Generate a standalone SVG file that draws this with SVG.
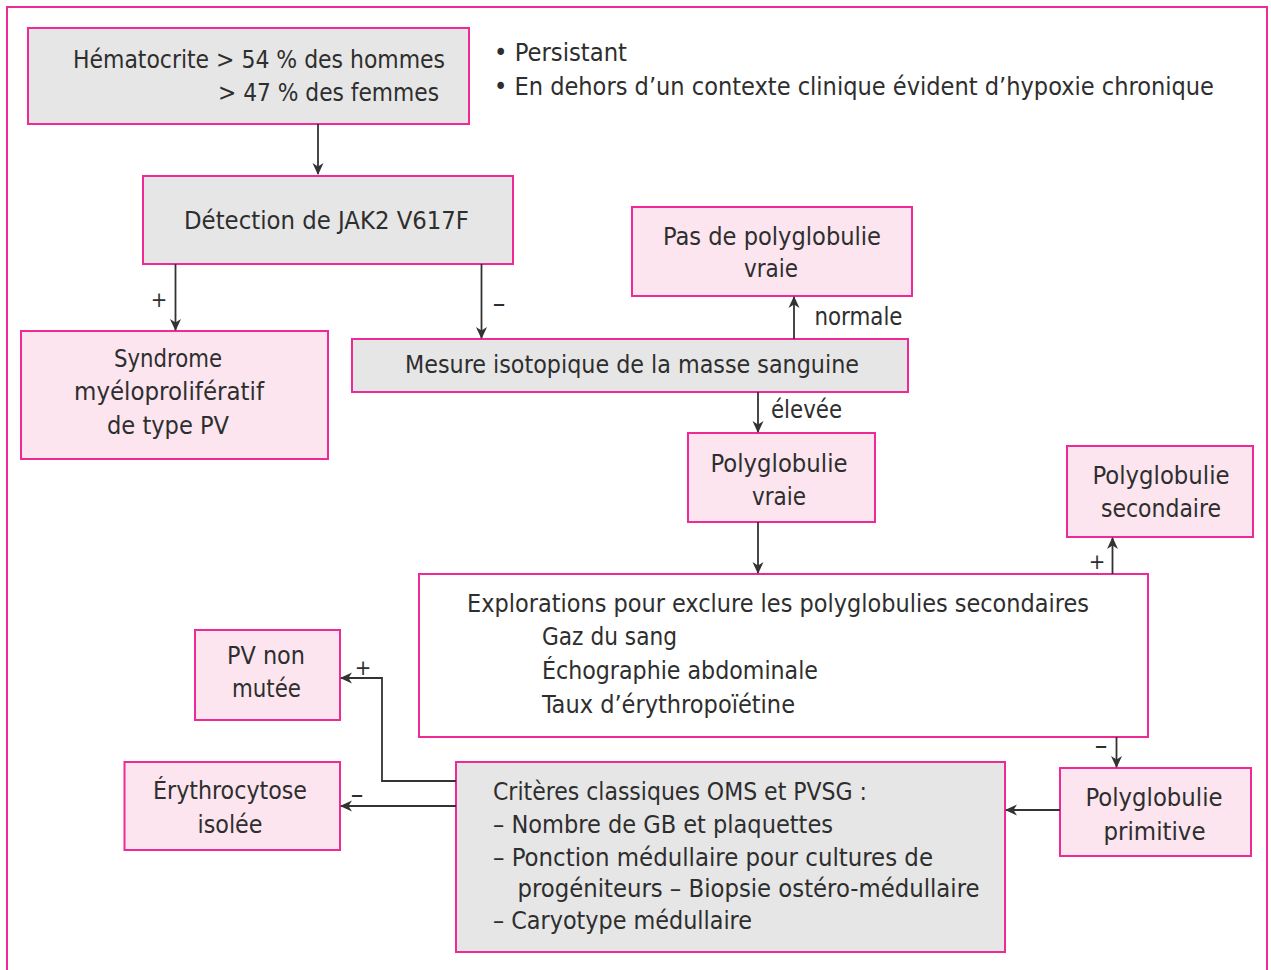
<svg xmlns="http://www.w3.org/2000/svg" width="1271" height="970" viewBox="0 0 1271 970">
<defs>
<style>
.frame{fill:#fff;stroke:#ee2a96;stroke-width:2}
.g{fill:#e6e6e6;stroke:#ee2a96;stroke-width:2}
.p{fill:#fce5ef;stroke:#ee2a96;stroke-width:2}
.w{fill:#fff;stroke:#ee2a96;stroke-width:2}
text{font-family:"DejaVu Sans Condensed","DejaVu Sans","Liberation Sans",sans-serif;font-size:24px;fill:#2e2e2e}
.c{text-anchor:middle}
.lab{font-size:22px}
.dash{font-size:28px}
.con{fill:none;stroke:#333;stroke-width:1.8;marker-end:url(#ah)}
</style>
<marker id="ah" viewBox="0 0 12 12" refX="11" refY="6" markerWidth="12" markerHeight="12" markerUnits="userSpaceOnUse" orient="auto">
<path d="M0,0.5 L12,6 L0,11.5 L3.5,6 z" fill="#333"/>
</marker>
</defs>
<rect class="frame" x="7" y="7" width="1260" height="980"/>

<g id="hematocrite">
<rect class="g" x="28" y="28" width="441" height="96"/>
<text x="445" y="68" text-anchor="end" textLength="372" lengthAdjust="spacingAndGlyphs">Hématocrite &gt; 54 % des hommes</text>
<text x="439" y="101" text-anchor="end" textLength="221" lengthAdjust="spacingAndGlyphs">&gt; 47 % des femmes</text>
</g>
<g id="conditions">
<text x="494" y="61" textLength="133" lengthAdjust="spacingAndGlyphs">• Persistant</text>
<text x="494" y="95" textLength="720" lengthAdjust="spacingAndGlyphs">• En dehors d’un contexte clinique évident d’hypoxie chronique</text>
</g>
<g id="jak2">
<rect class="g" x="143" y="176" width="370" height="88"/>
<text x="326.5" y="229" class="c" textLength="285" lengthAdjust="spacingAndGlyphs">Détection de JAK2 V617F</text>
</g>
<g id="syndrome">
<rect class="p" x="21" y="331" width="307" height="128"/>
<text x="168" y="367" class="c" textLength="108" lengthAdjust="spacingAndGlyphs">Syndrome</text>
<text x="169" y="400" class="c" textLength="190" lengthAdjust="spacingAndGlyphs">myéloprolifératif</text>
<text x="168" y="434" class="c" textLength="122" lengthAdjust="spacingAndGlyphs">de type PV</text>
</g>
<g id="mesure">
<rect class="g" x="352" y="339" width="556" height="53"/>
<text x="632" y="373" class="c" textLength="454" lengthAdjust="spacingAndGlyphs">Mesure isotopique de la masse sanguine</text>
</g>
<g id="pas-de-pv">
<rect class="p" x="632" y="207" width="280" height="89"/>
<text x="772" y="245" class="c" textLength="218" lengthAdjust="spacingAndGlyphs">Pas de polyglobulie</text>
<text x="771" y="277" class="c" textLength="54" lengthAdjust="spacingAndGlyphs">vraie</text>
</g>
<g id="pv-vraie">
<rect class="p" x="688" y="433" width="187" height="89"/>
<text x="779" y="472" class="c" textLength="137" lengthAdjust="spacingAndGlyphs">Polyglobulie</text>
<text x="779" y="505" class="c" textLength="54" lengthAdjust="spacingAndGlyphs">vraie</text>
</g>
<g id="pv-secondaire">
<rect class="p" x="1067" y="446" width="186" height="91"/>
<text x="1161" y="484" class="c" textLength="137" lengthAdjust="spacingAndGlyphs">Polyglobulie</text>
<text x="1161" y="517" class="c" textLength="120" lengthAdjust="spacingAndGlyphs">secondaire</text>
</g>
<g id="explorations">
<rect class="w" x="419" y="574" width="729" height="163"/>
<text x="467" y="612" textLength="622" lengthAdjust="spacingAndGlyphs">Explorations pour exclure les polyglobulies secondaires</text>
<text x="542" y="645" textLength="135" lengthAdjust="spacingAndGlyphs">Gaz du sang</text>
<text x="542" y="679" textLength="276" lengthAdjust="spacingAndGlyphs">Échographie abdominale</text>
<text x="542" y="713" textLength="253" lengthAdjust="spacingAndGlyphs">Taux d’érythropoïétine</text>
</g>
<g id="pv-primitive">
<rect class="p" x="1060" y="768" width="191" height="88"/>
<text x="1154" y="806" class="c" textLength="137" lengthAdjust="spacingAndGlyphs">Polyglobulie</text>
<text x="1154.5" y="840" class="c" textLength="102" lengthAdjust="spacingAndGlyphs">primitive</text>
</g>
<g id="criteres">
<rect class="g" x="456" y="762" width="549" height="190"/>
<text x="493" y="800" textLength="374" lengthAdjust="spacingAndGlyphs">Critères classiques OMS et PVSG :</text>
<text x="493" y="833" textLength="340" lengthAdjust="spacingAndGlyphs">– Nombre de GB et plaquettes</text>
<text x="493" y="866" textLength="440" lengthAdjust="spacingAndGlyphs">– Ponction médullaire pour cultures de</text>
<text x="517.5" y="897" textLength="462" lengthAdjust="spacingAndGlyphs">progéniteurs – Biopsie ostéro-médullaire</text>
<text x="493" y="929" textLength="259" lengthAdjust="spacingAndGlyphs">– Caryotype médullaire</text>
</g>
<g id="pv-non-mutee">
<rect class="p" x="195" y="630" width="145" height="90"/>
<text x="266" y="664" class="c" textLength="78" lengthAdjust="spacingAndGlyphs">PV non</text>
<text x="266.5" y="697" class="c" textLength="69" lengthAdjust="spacingAndGlyphs">mutée</text>
</g>
<g id="erythrocytose">
<rect class="p" x="124.5" y="762" width="215.5" height="88"/>
<text x="230" y="799" class="c" textLength="154" lengthAdjust="spacingAndGlyphs">Érythrocytose</text>
<text x="230" y="833" class="c" textLength="65" lengthAdjust="spacingAndGlyphs">isolée</text>
</g>

<g id="connectors">
<path class="con" d="M318,124 V174"/>
<path class="con" d="M175.5,264 V330"/>
<path class="con" d="M481.5,264 V338"/>
<path class="con" d="M794,339 V297"/>
<path class="con" d="M758,392 V432"/>
<path class="con" d="M758,522 V573"/>
<path class="con" d="M1112.5,574 V538"/>
<path class="con" d="M1116.5,737 V767"/>
<path class="con" d="M1060,810 H1006"/>
<path class="con" d="M456,781 H382 V678 H341"/>
<path class="con" d="M456,806 H341"/>
<text class="lab c" x="159" y="307">+</text>
<text class="dash c" x="499" y="313">–</text>
<text x="814.5" y="325" textLength="88" lengthAdjust="spacingAndGlyphs">normale</text>
<text x="771" y="418" textLength="71" lengthAdjust="spacingAndGlyphs">élevée</text>
<text class="lab c" x="1097" y="569">+</text>
<text class="dash c" x="1101" y="755">–</text>
<text class="lab c" x="363" y="675">+</text>
<text class="dash c" x="357" y="804">–</text>
</g>
</svg>
